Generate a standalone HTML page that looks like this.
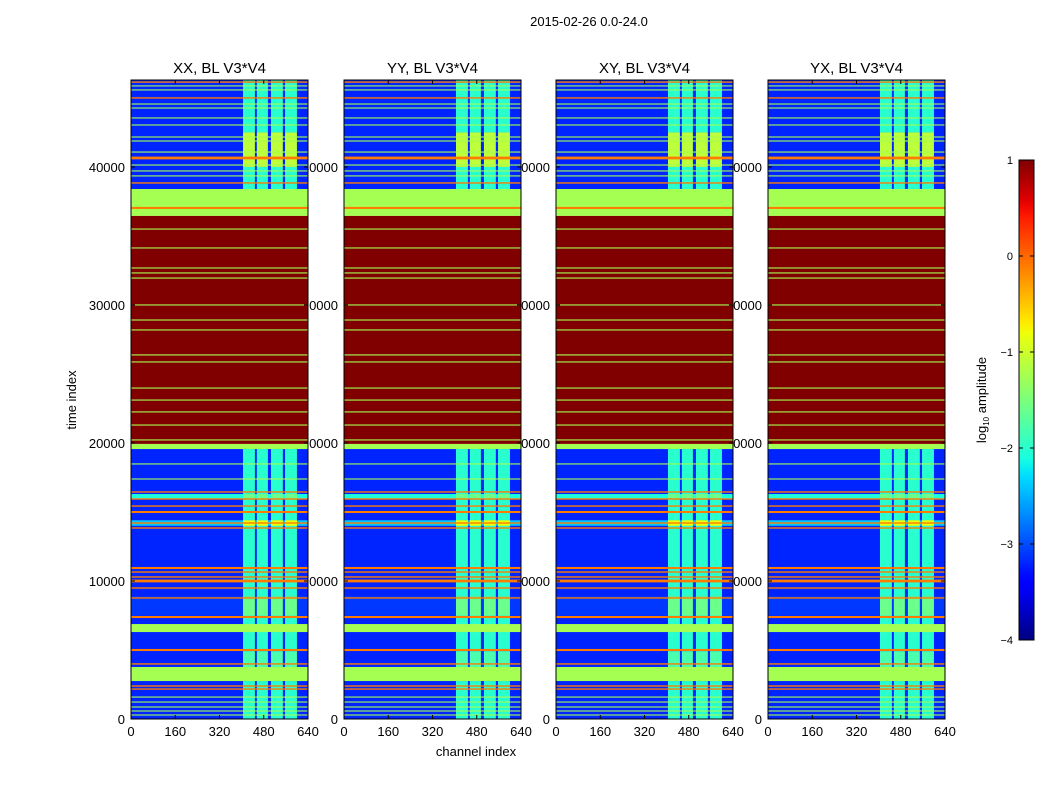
<!DOCTYPE html>
<html><head><meta charset="utf-8"><style>
body{margin:0;background:#fff;}
svg{display:block;font-family:"Liberation Sans",sans-serif;}
</style></head><body>
<svg id="chart" width="1050" height="800">
<text x="589" y="26" font-size="13" text-anchor="middle">2015-02-26 0.0-24.0</text>
<g id="ylabels"></g>
<g id="panels"></g>
<text transform="translate(76,400) rotate(-90)" font-size="13" text-anchor="middle">time index</text>
<text x="476" y="756" font-size="13" text-anchor="middle">channel index</text>
<defs><linearGradient id="cbgrad" x1="0" y1="1" x2="0" y2="0"></linearGradient></defs>
<g id="colorbar"></g>
<text transform="translate(986,400) rotate(-90)" font-size="13" text-anchor="middle">log<tspan font-size="8" dy="3">10</tspan><tspan dy="-3"> amplitude</tspan></text>
</svg>
<script>
const panelTitles=["XX, BL V3*V4","YY, BL V3*V4","XY, BL V3*V4","YX, BL V3*V4"];
const panelLeft=[131,344,556,768];
const xTicks=[0,160,320,480,640];
const yTicks=[0,10000,20000,30000,40000];
const cbTicks=[1,0,-1,-2,-3,-4];
const cbTickLabels=["1","0","\u22121","\u22122","\u22123","\u22124"];
// vertical stripe channel ranges
const stripeStart=[405,455,506,557];
const stripeEnd=[448,495,549,600];
// row bands: time start, time end, base value, stripe value
const bandT0=[38400,36450,19930,19560,0, 40000,14000,7500,15950,2750];
const bandT1=[46300,38400,36450,19930,19560, 42500,14400,8900,16300,4900];
const bandBase=[-3.2,-1.25,1.0,-1.25,-3.2, -3.2,-2.4,-3.1,-2.1,-3.2];
const bandStripe=[-2.0,-1.25,1.0,-1.25,-2.0, -1.1,-0.8,-1.6,-1.6,-1.8];
// thin lines: center time, thickness, value
const lineT=[46150,45000,40650,38840,45870,45580,44560,44270,43550,43040,42170,41880,41080,40140,39710,39350,37030,
35500,34130,32680,32320,31950,30000,28910,28190,26380,25870,23980,23110,22250,21300,20220,
18480,17390,16450,15940,15430,15000,14200,13840,10940,10650,10290,10000,9490,8770,7390,5000,3990,2390,2170,1590,1230,870,580,290];
const lineW=[100,100,200,100,80,80,80,80,80,80,80,80,80,80,80,80,150,
80,80,80,80,80,80,80,80,80,80,80,80,80,80,80,
80,80,100,100,100,150,100,100,150,100,100,200,100,100,150,150,100,100,100,80,80,80,80,80];
const lineV=[-0.1,-0.1,-0.1,-0.1,-1.25,-1.25,-1.25,-1.25,-1.25,-1.25,-1.25,-1.25,-1.25,-1.25,-1.25,-1.25,-0.1,
-1.25,-1.25,-1.25,-1.25,-1.25,-1.25,-1.25,-1.25,-1.25,-1.25,-1.25,-1.25,-1.25,-1.25,-1.25,
-1.25,-1.25,-0.1,-0.1,-0.1,-0.1,-0.1,-0.1,-0.1,-0.1,-0.1,-0.1,-0.1,-0.1,-0.1,-0.1,-0.1,-0.1,-0.1,-1.25,-1.25,-1.25,-1.25,-1.25];
// green blocks in lower region
const blockT0=[6300,2750];
const blockT1=[6880,3770];
const blockV=[-1.25,-1.25];

const NS="http://www.w3.org/2000/svg";
const PW=177, TOP=80, BOT=719, TMAX=46300, CMAX=640;
const yS=t=>BOT-(t/TMAX)*(BOT-TOP);
const xS=(c,l)=>l+c/CMAX*PW;
function interp(x,xs,ys){for(let i=1;i<xs.length;i++){if(x<=xs[i]){const f=(x-xs[i-1])/(xs[i]-xs[i-1]);return ys[i-1]+f*(ys[i]-ys[i-1]);}}return ys[ys.length-1];}
function jet(v){const x=Math.max(0,Math.min(1,(v+4)/5));
 const r=interp(x,[0,0.35,0.66,0.89,1],[0,0,1,1,0.5]);
 const g=interp(x,[0,0.125,0.375,0.64,0.91,1],[0,0,1,1,0,0]);
 const b=interp(x,[0,0.11,0.34,0.65,1],[0.5,1,1,0,0]);
 return `rgb(${Math.round(r*255)},${Math.round(g*255)},${Math.round(b*255)})`;}
function mk(tag,attrs,parent){const e=document.createElementNS(NS,tag);for(const k in attrs)e.setAttribute(k,attrs[k]);parent.appendChild(e);return e;}
const ylab=document.getElementById('ylabels'), panels=document.getElementById('panels');
panelLeft.forEach((L,p)=>{
 yTicks.forEach(t=>{const e=mk('text',{x:L-6,y:yS(t)+5,'font-size':13,'text-anchor':'end'},ylab);e.textContent=t;
  
  });
 const g=mk('g',{},panels);
 
 
 mk('rect',{x:L,y:TOP,width:PW,height:BOT-TOP,fill:'#fff'},g);
 const cellRow=(t0,t1,base,str)=>{
  const y0=yS(t1),h=yS(t0)-yS(t1);
  const r=mk('rect',{x:L,y:y0,width:PW,height:Math.max(h,0.8),fill:jet(base)},g);
  
  
  if(str!==base) stripeStart.forEach((s,i)=>{
   const c=mk('rect',{x:xS(s,L),y:y0,width:xS(stripeEnd[i],L)-xS(s,L),height:Math.max(h,0.8),fill:jet(str)},g);
   
   });
 };
 bandT0.forEach((t,i)=>cellRow(t,bandT1[i],bandBase[i],bandStripe[i]));
 blockT0.forEach((t,i)=>cellRow(t,blockT1[i],blockV[i],blockV[i]));
 lineT.forEach((t,i)=>cellRow(t-lineW[i]/2,t+lineW[i]/2,lineV[i],lineV[i]));
 mk('rect',{x:L,y:TOP,width:PW,height:BOT-TOP,fill:'none',stroke:'#000','stroke-width':1},g);
 xTicks.forEach(c=>{const x=xS(c,L);
  mk('line',{x1:x,y1:BOT,x2:x,y2:BOT-4,stroke:'#000'},g);mk('line',{x1:x,y1:TOP,x2:x,y2:TOP+4,stroke:'#000'},g);
  const e=mk('text',{x:x,y:BOT+17,'font-size':13,'text-anchor':'middle'},g);e.textContent=c;
  
  });
 yTicks.forEach(t=>{const y=yS(t);
  mk('line',{x1:L,y1:y,x2:L+4,y2:y,stroke:'#000'},g);mk('line',{x1:L+PW,y1:y,x2:L+PW-4,y2:y,stroke:'#000'},g);});
 const tt=mk('text',{x:L+PW/2,y:73,'font-size':15,'text-anchor':'middle'},g);tt.textContent=panelTitles[p];
 
 
});
// colorbar
const grad=document.getElementById('cbgrad');
for(let i=0;i<=50;i++){const v=-4+i*5/50;mk('stop',{offset:(i/50),'stop-color':jet(v)},grad);}
const cb=document.getElementById('colorbar');
const cbY=v=>640-(v+4)/5*480;
const bar=mk('rect',{x:1019,y:160,width:15,height:480,fill:'url(#cbgrad)',stroke:'#000','stroke-width':1},cb);


cbTicks.forEach((v,i)=>{const y=cbY(v);
 mk('line',{x1:1019,y1:y,x2:1023,y2:y,stroke:'#000'},cb);mk('line',{x1:1034,y1:y,x2:1030,y2:y,stroke:'#000'},cb);
 const e=mk('text',{x:1013,y:y+4,'font-size':11,'text-anchor':'end'},cb);e.textContent=cbTickLabels[i];
 
 });
</script>
</body></html>
